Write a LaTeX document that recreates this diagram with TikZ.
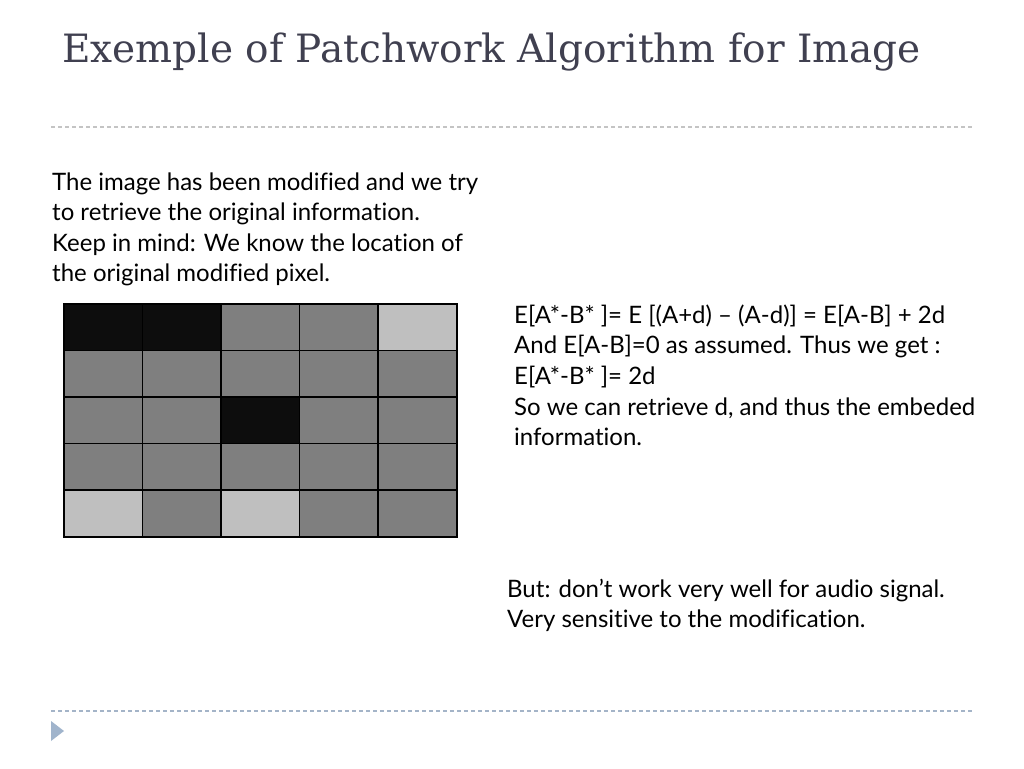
\documentclass[tikz,border=0pt]{standalone}
\usepackage{fontspec}
\setmainfont[Ligatures={NoCommon}]{Lato}
\newfontfamily\titlefont{DejaVu Serif}
\definecolor{titlecol}{HTML}{404050}
\definecolor{K}{HTML}{0D0D0D}
\definecolor{G}{HTML}{7F7F7F}
\definecolor{L}{HTML}{BFBFBF}
\definecolor{rulegray}{HTML}{C4C4C4}
\definecolor{ruleblue}{HTML}{A4B4C8}
\definecolor{bulletblue}{HTML}{A0B4CC}
\tikzset{
  txt/.style={anchor=base west, inner sep=0pt, font=\fontsize{24}{29}\selectfont, text=black},
  cell/.style={draw=black, line width=1.5pt, minimum width=78.6pt, minimum height=46.6pt, inner sep=0pt, anchor=north west},
  rule/.style={line width=1.2pt, dash pattern=on 4pt off 3pt}
}
\begin{document}
\begin{tikzpicture}[x=1pt,y=-1pt]
\useasboundingbox[fill=white] (0,0) rectangle (1024,768);
% title
\node[anchor=base west, inner sep=0pt, font=\titlefont\fontsize{39}{46}\selectfont, text=titlecol] (title) at (62,63) {Exemple of Patchwork Algorithm for Image};
% rules
\coordinate (r1a) at (51,127); \coordinate (r1b) at (972,127);
\draw[rule, draw=rulegray] (r1a) -- (r1b);
\coordinate (r2a) at (51,711); \coordinate (r2b) at (972,711);
\draw[rule, draw=ruleblue] (r2a) -- (r2b);
% bullet triangle
\fill[bulletblue] (51,721) -- (64,731) -- (51,741) -- cycle;
% left text
\node[txt] (a1) at (52,190) {The image has been modified and we try};
\node[txt] (a2) at (52,220.6) {to retrieve the original information.};
\node[txt] (a3) at (52,251.2) {Keep in mind: We know the location of};
\node[txt] (a4) at (52,281.8) {the original modified pixel.};
% right text
\node[txt] (b1) at (514,323.3) {E[A*-B* ]= E [(A+d) – (A-d)] = E[A-B] + 2d};
\node[txt] (b2) at (514,353.9) {And E[A-B]=0 as assumed. Thus we get :};
\node[txt] (b3) at (514,384.5) {E[A*-B* ]= 2d};
\node[txt] (b4) at (514,415.1) {So we can retrieve d, and thus the embeded};
\node[txt] (b5) at (514,445.7) {information.};
% bottom text
\node[txt] (c1) at (507,597) {But: don’t work very well for audio signal.};
\node[txt] (c2) at (507,627.6) {Very sensitive to the modification.};
% grid
\foreach \r/\row in {0/{K,K,G,G,L},1/{G,G,G,G,G},2/{G,G,K,G,G},3/{G,G,G,G,G},4/{L,G,L,G,G}}{
  \foreach \col [count=\c from 0] in \row {
    \node[cell, fill=\col] (cell-\r-\c) at ({63+78.6*\c},{303+46.6*\r}) {};
  }
}
\end{tikzpicture}
\end{document}
